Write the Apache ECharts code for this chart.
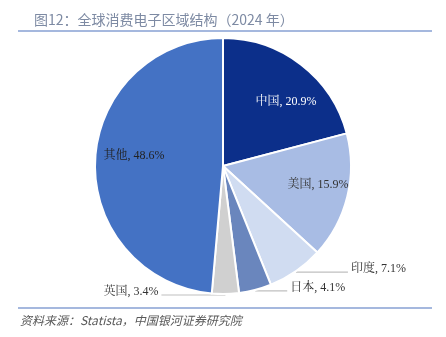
<!DOCTYPE html>
<html>
<head>
<meta charset="utf-8">
<script src="https://cdn.jsdelivr.net/npm/echarts@6/dist/echarts.min.js"></script>
<style>
  html, body { margin: 0; padding: 0; background: #fff; }
  #chart { width: 446px; height: 337px; }
</style>
</head>
<body>
<div id="chart"></div>
<script>
// Regional shares of global consumer electronics, 2024 (%)
const regions = ['中国', '美国', '印度', '日本', '英国', '其他'];
const shares = [20.9, 15.9, 7.1, 4.1, 3.4, 48.6];
const sliceColors = ['#0c2f8a', '#a8bce4', '#d0dcf1', '#6a86bd', '#d0d0d0', '#4472c4'];
const labelColors = ['#ffffff', '#333333', '#333333', '#333333', '#333333', '#222222'];

const titleText = '图12：全球消费电子区域结构（2024 年）';
const sourceText = '资料来源：Statista，中国银河证券研究院';

// Labels drawn outside the slices with a horizontal leader line (signed length)
const outsideLead = { '印度': 52, '日本': 32, '英国': -64 };
// Nudges for labels drawn inside the slices
const insideShift = { '中国': [22, -11], '美国': [30, 3], '其他': [-22, -7] };

const labelFont = "'Liberation Serif', 'Noto Serif CJK SC', 'Noto Sans CJK SC', serif";

const chart = echarts.init(document.getElementById('chart'));

const data = regions.map((name, i) => {
  const outside = name in outsideLead;
  return {
    name,
    value: shares[i],
    itemStyle: { color: sliceColors[i] },
    label: {
      position: outside ? 'outside' : 'inside',
      color: labelColors[i]
    },
    labelLine: { show: outside, length: 0, length2: 10 }
  };
});

chart.setOption({
  animation: false,
  title: {
    text: titleText,
    left: 29,
    top: 8,
    textStyle: {
      fontFamily: "'Noto Sans CJK SC', sans-serif",
      fontSize: 14,
      fontWeight: 'normal',
      color: '#7d8aa3'
    }
  },
  graphic: [
    {
      type: 'line',
      shape: { x1: 18, y1: 31, x2: 432, y2: 31 },
      style: { stroke: '#4d72bd', lineWidth: 1.2 }
    },
    {
      type: 'line',
      shape: { x1: 18, y1: 308, x2: 432, y2: 308 },
      style: { stroke: '#4d72bd', lineWidth: 1.2 }
    },
    {
      type: 'text',
      left: 20,
      top: 314,
      style: {
        text: sourceText,
        fontFamily: "'Noto Sans CJK SC', sans-serif",
        fontStyle: 'italic',
        fontSize: 12,
        fill: '#595959'
      }
    }
  ],
  series: [
    {
      type: 'pie',
      center: [223, 166],
      radius: [0, 128],
      startAngle: 90,
      clockwise: true,
      avoidLabelOverlap: false,
      itemStyle: { borderColor: '#ffffff', borderWidth: 2 },
      label: {
        formatter: p => p.name + ', ' + p.value.toFixed(1) + '%',
        fontFamily: labelFont,
        fontSize: 12
      },
      labelLine: {
        lineStyle: { color: '#bfbfbf', width: 1.2 }
      },
      labelLayout: function (params) {
        const name = regions[params.dataIndex];
        if (name in outsideLead && params.labelLinePoints) {
          const p0 = params.labelLinePoints[0];
          const lead = outsideLead[name];
          const end = [p0[0] + lead, p0[1] + 1];
          return {
            x: end[0] + (lead > 0 ? 3 : -3),
            y: end[1] - 3,
            align: lead > 0 ? 'left' : 'right',
            verticalAlign: 'middle',
            labelLinePoints: [[p0[0], end[1]], end]
          };
        }
        const s = insideShift[name] || [0, 0];
        return { dx: s[0], dy: s[1] };
      },
      data
    }
  ]
});
</script>
</body>
</html>
